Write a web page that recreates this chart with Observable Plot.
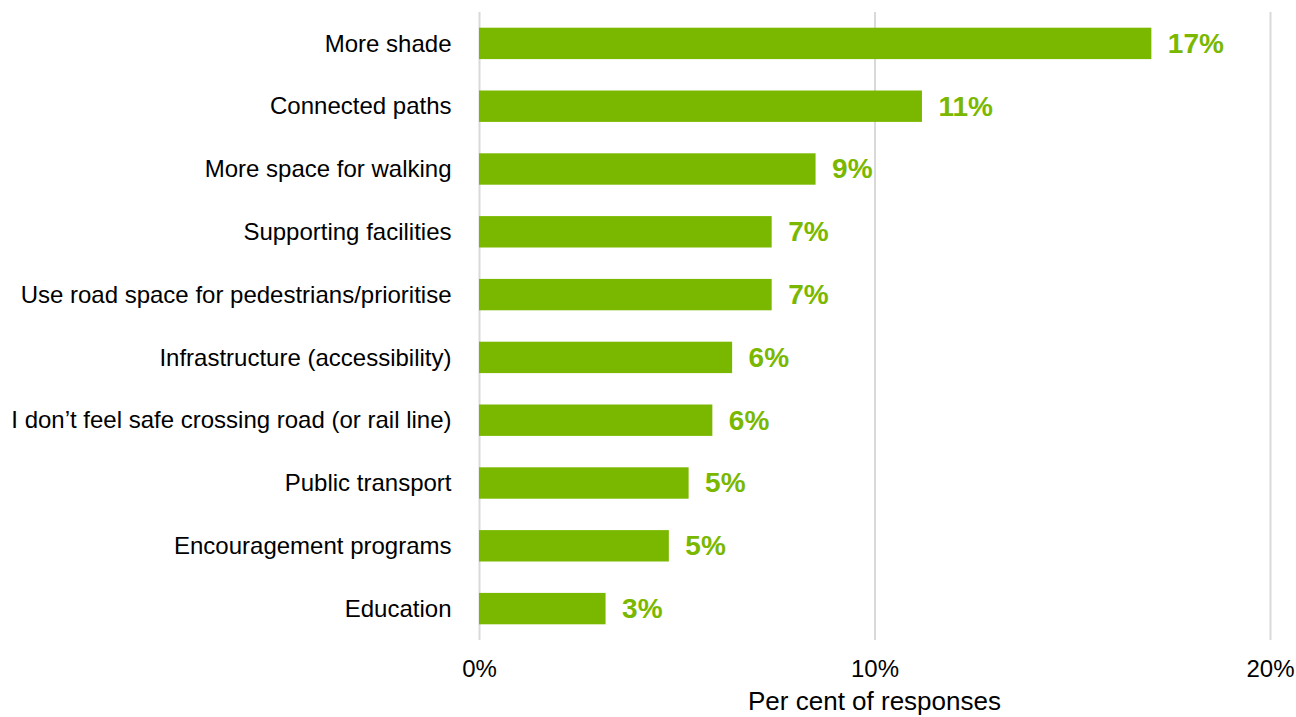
<!DOCTYPE html>
<html>
<head>
<meta charset="utf-8">
<script src="https://cdn.jsdelivr.net/npm/d3@7"></script>
<script src="https://cdn.jsdelivr.net/npm/@observablehq/plot@0.6"></script>
<style>
  html, body { margin: 0; padding: 0; background: #fff; }
  #chart { width: 1296px; height: 717px; overflow: hidden; }
</style>
</head>
<body>
<div id="chart"></div>
<script>
const categories = [
  "More shade",
  "Connected paths",
  "More space for walking",
  "Supporting facilities",
  "Use road space for pedestrians/prioritise",
  "Infrastructure (accessibility)",
  "I don’t feel safe crossing road (or rail line)",
  "Public transport",
  "Encouragement programs",
  "Education"
];
const values = [17.0, 11.2, 8.51, 7.4, 7.4, 6.4, 5.9, 5.3, 4.8, 3.2];
const valueLabels = ["17%", "11%", "9%", "7%", "7%", "6%", "6%", "5%", "5%", "3%"];
const xTicks = [0, 10, 20];
const xTickLabels = ["0%", "10%", "20%"];
const xLabel = "Per cent of responses";

const data = categories.map((c, i) => ({category: c, value: values[i], label: valueLabels[i]}));
const green = "#7AB800";

const chart = Plot.plot({
  width: 1296,
  height: 717,
  marginTop: 12,
  marginBottom: 77,
  marginLeft: 479,
  marginRight: 26,
  style: {fontFamily: "'Liberation Sans', Arial, sans-serif", color: "#000", background: "#fff"},
  x: {domain: [0, 20]},
  y: {domain: categories, paddingInner: 0.5, paddingOuter: 0.25, round: false},
  marks: [
    Plot.gridX(xTicks, {stroke: "#d9d9d9", strokeOpacity: 1, strokeWidth: 2}),
    Plot.barX(data, {x: "value", y: "category", fill: green}),
    Plot.text(data, {x: "value", y: "category", text: "label", textAnchor: "start", dx: 16,
      fill: green, fontWeight: "bold", fontSize: 28}),
    Plot.axisY({tickSize: 0, tickPadding: 28, fontSize: 24, label: null}),
    Plot.axisX(xTicks, {tickSize: 0, tickPadding: 19, fontSize: 24,
      tickFormat: (d) => xTickLabels[xTicks.indexOf(d)],
      label: null})
  ]
});
document.getElementById("chart").appendChild(chart);

// axis title as part of the SVG, positioned through the x scale
const sx = chart.scale("x");
const svg = d3.select(chart);
svg.append("text")
  .attr("x", (sx.apply(0) + sx.apply(20)) / 2)
  .attr("y", 710)
  .attr("text-anchor", "middle")
  .attr("font-size", 26)
  .attr("fill", "#000")
  .text(xLabel);
</script>
</body>
</html>
